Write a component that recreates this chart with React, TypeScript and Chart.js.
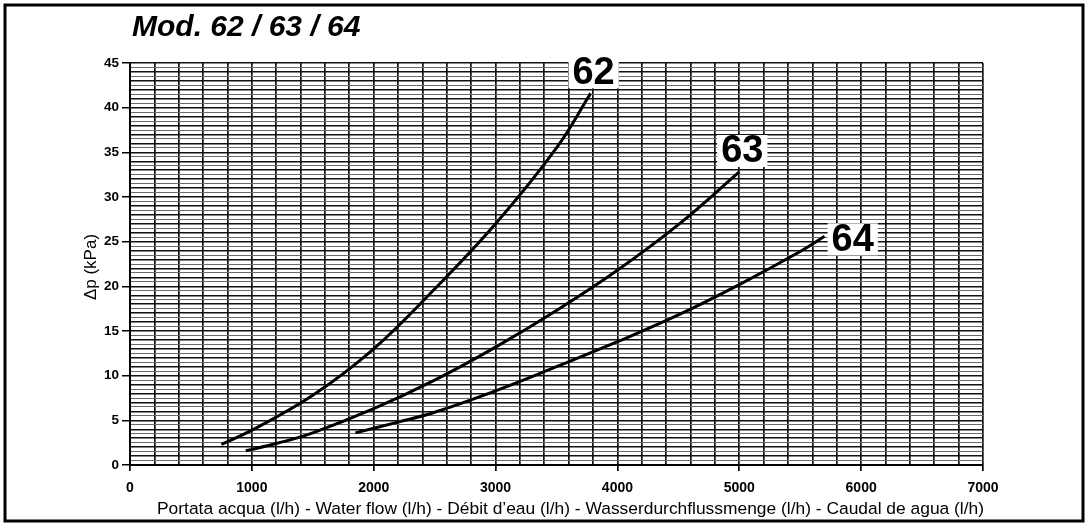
import React, { useEffect, useRef } from 'react';
import { Chart, registerables } from 'chart.js';

Chart.register(...registerables);

// ---- data ----
const flow62 = [750, 1000, 1500, 2000, 2500, 3000, 3500, 3780];
const dp62 = [2.3, 3.9, 7.8, 13.0, 19.7, 27.0, 35.5, 41.6];

const flow63 = [950, 1200, 1500, 2000, 2500, 3000, 3500, 4000, 4500, 5000];
const dp63 = [1.6, 2.4, 3.6, 6.3, 9.5, 13.2, 17.3, 21.8, 26.9, 32.8];

const flow64 = [1850, 2200, 2500, 3000, 3500, 4000, 4500, 5000, 5500, 5700];
const dp64 = [3.6, 4.8, 5.9, 8.3, 11.0, 13.8, 16.8, 20.2, 23.9, 25.6];

const seriesNames = ['62', '63', '64'];
const xTickLabels = [0, 1000, 2000, 3000, 4000, 5000, 6000, 7000];
const yTickLabels = [0, 5, 10, 15, 20, 25, 30, 35, 40, 45];

const titleText = 'Mod. 62 / 63 / 64';
const xTitle =
  'Portata acqua (l/h) - Water flow (l/h) - Débit d\u2019eau (l/h) - Wasserdurchflussmenge (l/h) - Caudal de agua (l/h)';
const yTitle = '\u0394p (kPa)';

const W = 1087;
const H = 525;
const FONT = '"Liberation Sans", Arial, Helvetica, sans-serif';

const toPoints = (xs: number[], ys: number[]) => xs.map((x, i) => ({ x, y: ys[i] }));

const decorPlugin = {
  id: 'decor',
  afterDraw(chart: any) {
    const ctx = chart.ctx as CanvasRenderingContext2D;
    const area = chart.chartArea;
    ctx.save();
    // outer frame
    ctx.strokeStyle = '#000';
    ctx.lineWidth = 3;
    ctx.strokeRect(5, 5, W - 9, H - 9);

    // title
    ctx.fillStyle = '#000';
    ctx.font = `italic bold 30px ${FONT}`;
    ctx.textAlign = 'left';
    ctx.textBaseline = 'alphabetic';
    ctx.fillText(titleText, 132, 36);

    // x title
    ctx.font = `17.4px ${FONT}`;
    ctx.textAlign = 'right';
    ctx.fillText(xTitle, area.right + 1, 514);

    // y title
    ctx.save();
    ctx.translate(91, (area.top + area.bottom) / 2 + 3);
    ctx.rotate(-Math.PI / 2);
    ctx.textAlign = 'center';
    ctx.textBaseline = 'middle';
    ctx.font = `17px ${FONT}`;
    ctx.fillText(yTitle, 0, 0);
    ctx.restore();

    // series labels with white halo
    ctx.font = `bold 38px ${FONT}`;
    ctx.textBaseline = 'middle';
    chart.data.datasets.forEach((ds: any, i: number) => {
      const meta = chart.getDatasetMeta(i);
      const last = meta.data[meta.data.length - 1];
      const name = seriesNames[i];
      const tw = ctx.measureText(name).width;
      let cx: number;
      let cy: number;
      if (i === 2) {
        cx = last.x + 7 + tw / 2;
        cy = last.y + 3;
      } else {
        cx = last.x + 3;
        cy = last.y - 21;
      }
      ctx.fillStyle = '#fff';
      ctx.fillRect(cx - tw / 2 - 4, cy - 16, tw + 8, 32);
      ctx.fillStyle = '#000';
      ctx.textAlign = 'center';
      ctx.fillText(name, cx, cy + 1);
    });
    ctx.restore();
  },
};

export default function App() {
  const ref = useRef<HTMLCanvasElement | null>(null);

  useEffect(() => {
    document.body.style.margin = '0';
    document.body.style.background = '#fff';
    const canvas = ref.current;
    if (!canvas) return;

    const lineDs = (xs: number[], ys: number[], label: string) => ({
      label,
      data: toPoints(xs, ys),
      borderColor: '#000',
      backgroundColor: '#000',
      borderWidth: 3,
      pointRadius: 0,
      tension: 0.4,
      fill: false,
    });

    const chart = new Chart(canvas, {
      type: 'line',
      data: {
        datasets: [
          lineDs(flow62, dp62, seriesNames[0]),
          lineDs(flow63, dp63, seriesNames[1]),
          lineDs(flow64, dp64, seriesNames[2]),
        ],
      },
      options: {
        animation: false,
        responsive: false,
        devicePixelRatio: 1,
        layout: { padding: { left: 0, right: W - 983, top: 63, bottom: 0 } },
        plugins: {
          legend: { display: false },
          tooltip: { enabled: false },
          title: { display: false },
        },
        scales: {
          x: {
            type: 'linear',
            min: 0,
            max: 7000,
            afterFit: (s: any) => {
              s.height = H - 465;
            },
            ticks: {
              stepSize: 200,
              autoSkip: false,
              maxTicksLimit: 1000,
              maxRotation: 0,
              padding: 9,
              color: '#000',
              font: { family: FONT, size: 14, weight: 'bold' },
              callback: (v: any) => (xTickLabels.includes(Number(v)) ? String(v) : ''),
            },
            grid: {
              color: '#111',
              lineWidth: 1.7,
              tickLength: 6,
              tickColor: (c: any) =>
                xTickLabels.includes(Number(c.tick?.value)) ? '#000' : 'rgba(0,0,0,0)',
            },
            border: { color: '#000', width: 2 },
          },
          y: {
            type: 'linear',
            min: 0,
            max: 45,
            afterFit: (s: any) => {
              s.width = 130;
            },
            ticks: {
              stepSize: 0.5,
              autoSkip: false,
              maxTicksLimit: 1000,
              padding: 3,
              color: '#000',
              font: { family: FONT, size: 13.5, weight: 'bold' },
              callback: (v: any) => (yTickLabels.includes(Number(v)) ? String(v) : ''),
            },
            grid: {
              color: (c: any) =>
                Number.isInteger(Number(c.tick?.value)) ? '#111' : '#6a6a6a',
              lineWidth: (c: any) => (Number.isInteger(Number(c.tick?.value)) ? 1.5 : 1),
              tickLength: 8,
              tickColor: (c: any) =>
                yTickLabels.includes(Number(c.tick?.value)) ? '#000' : 'rgba(0,0,0,0)',
            },
            border: { color: '#000', width: 2 },
          },
        },
      },
      plugins: [decorPlugin],
    });

    return () => chart.destroy();
  }, []);

  return (
    <div style={{ width: W, height: H, position: 'relative', background: '#fff' }}>
      <canvas ref={ref} width={W} height={H} style={{ width: W, height: H, display: 'block' }} />
    </div>
  );
}
